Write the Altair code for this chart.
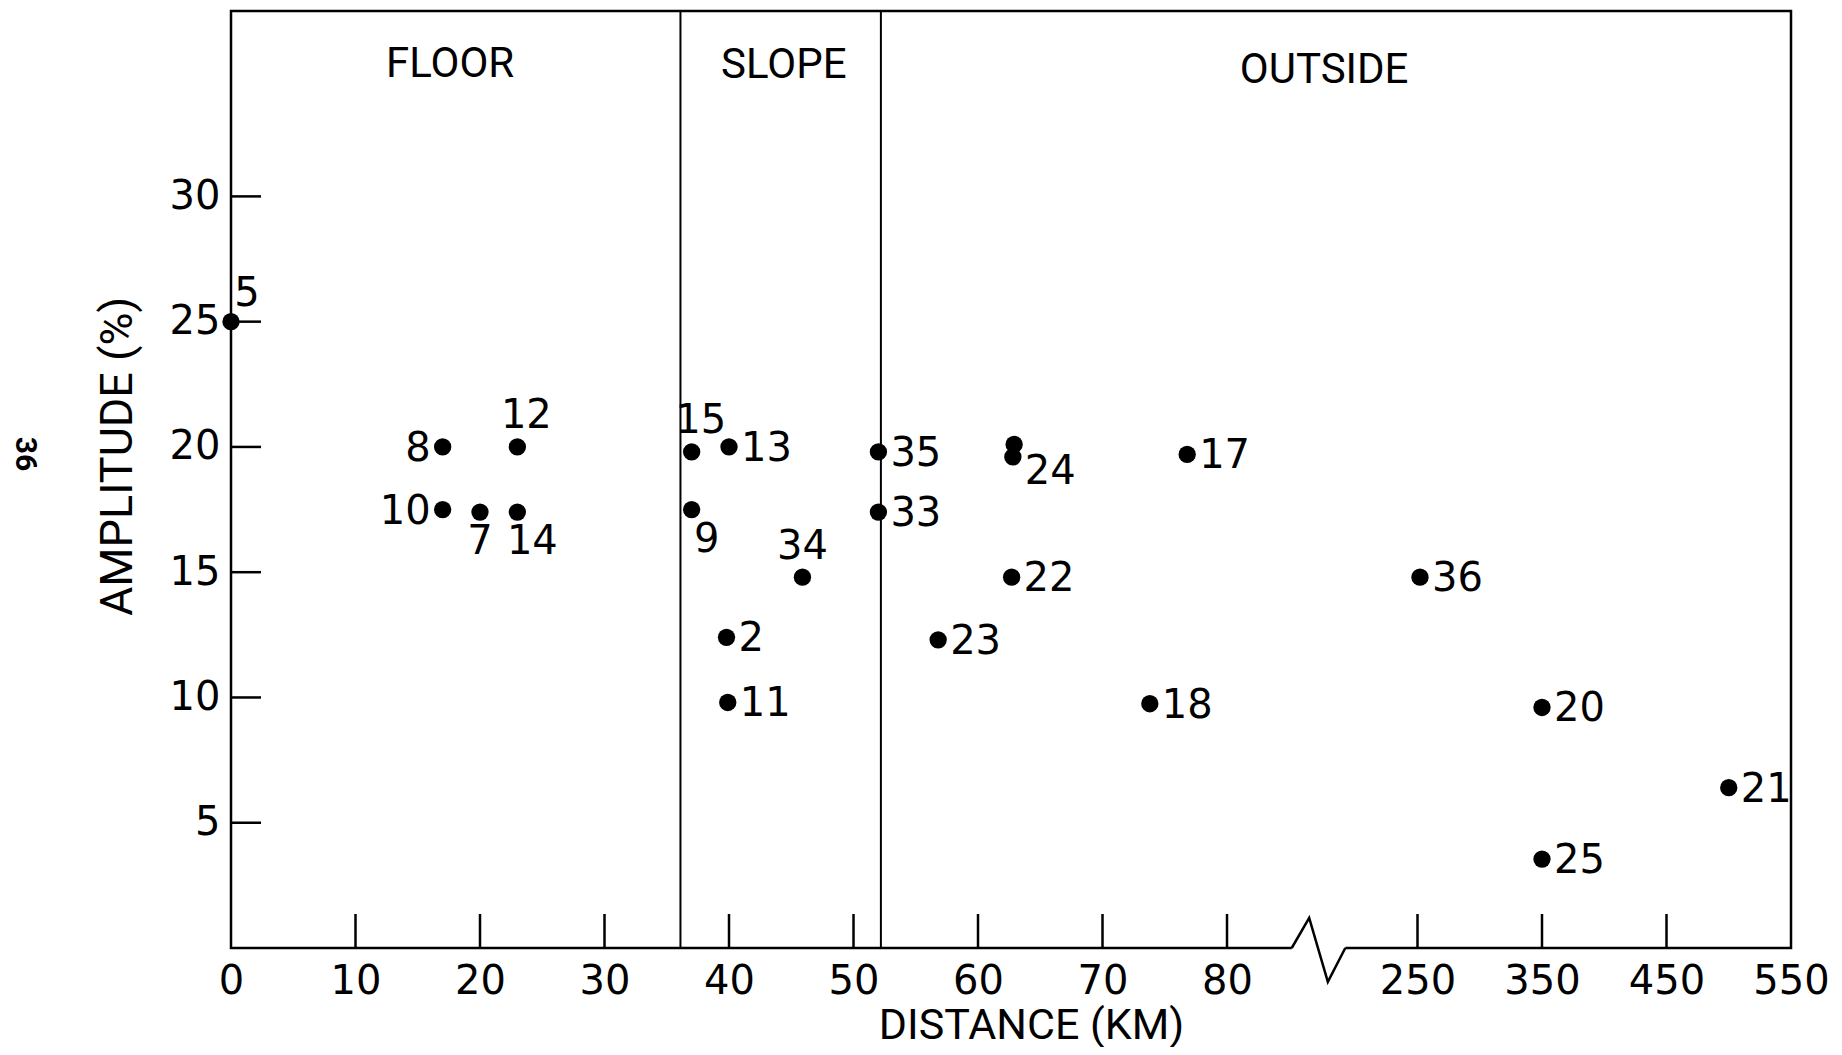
import altair as alt
import pandas as pd

# ---------------- data ----------------
stations = ["5", "8", "12", "10", "7", "14", "15", "13", "9", "34", "2", "11",
            "35", "33", "24", "24", "17", "22", "23", "18", "36", "20", "25", "21"]
distance_km = [0.0, 17.0, 23.0, 17.0, 20.0, 23.0, 37.0, 40.0, 37.0, 45.9, 39.8, 39.9,
               52.0, 52.0, 62.9, 62.8, 76.8, 62.7, 56.8, 73.8, 252.0, 350.0, 350.0, 500.0]
amplitude = [25.0, 20.0, 20.0, 17.5, 17.4, 17.4, 19.8, 20.0, 17.5, 14.8, 12.4, 9.8,
             19.8, 17.4, 20.1, 19.6, 19.7, 14.8, 12.3, 9.75, 14.8, 9.6, 3.55, 6.4]
label_side = ["arr", "l", "ar", "l", "b", "br", "ar", "r", "br", "a", "r", "r",
              "r", "r", "none", "rb", "r", "r", "r", "r", "r", "r", "r", "r"]

boundary_km = [36.1, 52.2]                 # FLOOR | SLOPE | OUTSIDE
region_names = ["FLOOR", "SLOPE", "OUTSIDE"]
region_pos = [17.6, 44.4, 87.8]            # axis position units
region_amp = [35.3, 35.25, 35.05]

x_label_km = [0, 10, 20, 30, 40, 50, 60, 70, 80, 250, 350, 450, 550]
x_tick_km = [10, 20, 30, 40, 50, 60, 70, 80, 250, 350, 450]
y_ticks = [5, 10, 15, 20, 25, 30]

break_pos = [85.2, 86.6, 88.1, 89.5]       # axis-break zigzag
break_amp = [0.0, 1.2, -1.35, 0.0]

# ---------------- broken x axis mapping ----------------
BREAK_POS = 95.3


def to_pos(km):
    return km if km <= 85 else BREAK_POS + (km - 250) / 10


pos_expr = f"datum.km <= 85 ? datum.km : {BREAK_POS} + (datum.km - 250) / 10"

W, H = 1560, 937
FONT = "Roboto"
NUM_FONT = "DejaVu Sans"
X_MAX = 125.3
Y_MAX = 37.4

xscale = alt.Scale(domain=[0, X_MAX], nice=False, zero=False)
yscale = alt.Scale(domain=[0, Y_MAX], nice=False, zero=False)

xaxis = alt.Axis(
    title="DISTANCE (KM)",
    values=[to_pos(v) for v in x_label_km],
    labelExpr=f"datum.value > 90 ? toString(round(250 + (datum.value - {BREAK_POS}) * 10)) : toString(round(datum.value))",
    ticks=False, tickSize=0, domain=False, grid=False,
    labelPadding=33, labelBaseline="middle", labelFontSize=40,
    labelFont=NUM_FONT, labelColor="black", labelFlush=False, labelOverlap=False,
    titleFont=FONT, titleFontSize=43, titleFontWeight="normal", titleColor="black",
    titleX=800, titleY=90, titleAlign="center", titleBaseline="alphabetic")
yaxis = alt.Axis(
    title="AMPLITUDE (%)",
    values=y_ticks,
    ticks=False, tickSize=0, domain=False, grid=False,
    labelPadding=11, labelBaseline="middle", labelFontSize=40,
    labelFont=NUM_FONT, labelColor="black", labelFlush=False,
    titleFont=FONT, titleFontSize=45, titleFontWeight="normal", titleColor="black",
    titleX=-114, titleY=445, titleAlign="center", titleBaseline="middle",
    titleAngle=270)


def X(field="pos:Q"):
    return alt.X(field, scale=xscale, axis=xaxis)


def Y(field="amp:Q"):
    return alt.Y(field, scale=yscale, axis=yaxis)


pts = pd.DataFrame({"station": stations, "km": distance_km,
                    "amp": amplitude, "side": label_side})

base = alt.Chart(pts).transform_calculate(pos=pos_expr)

points = base.mark_circle(size=300, color="black", opacity=1).encode(x=X(), y=Y())

side_style = {
    "r": dict(dx=12, dy=2, align="left"),
    "l": dict(dx=-12, dy=2, align="right"),
    "a": dict(dx=0, dy=-30, align="center"),
    "ar": dict(dx=9, dy=-31, align="center"),
    "arr": dict(dx=16, dy=-28, align="center"),
    "b": dict(dx=0, dy=30, align="center"),
    "br": dict(dx=15, dy=30, align="center"),
    "rb": dict(dx=12, dy=15, align="left"),
}

label_layers = []
for side, st in side_style.items():
    label_layers.append(
        base.transform_filter(alt.datum.side == side).mark_text(
            font=NUM_FONT, fontSize=40, color="black", baseline="middle", **st
        ).encode(x=X(), y=Y(), text="station:N")
    )

bounds = alt.Chart(pd.DataFrame({"km": boundary_km})).transform_calculate(
    pos=pos_expr).mark_rule(color="black", strokeWidth=2).encode(
    x=X(), y=alt.value(0), y2=alt.value(H))

xticks = alt.Chart(pd.DataFrame({"km": x_tick_km})).transform_calculate(
    pos=pos_expr).mark_rule(color="black", strokeWidth=2.5).encode(
    x=X(), y=alt.value(H), y2=alt.value(H - 34))

yticks = alt.Chart(pd.DataFrame({"amp": y_ticks})).mark_rule(
    color="black", strokeWidth=2.5).encode(
    y=Y(), x=alt.value(0), x2=alt.value(30))

brk = pd.DataFrame({"pos": break_pos, "amp": break_amp, "i": list(range(len(break_pos)))})
break_cover = alt.Chart(brk).mark_rule(color="white", strokeWidth=7).encode(
    x=alt.X("min(pos):Q", scale=xscale, axis=xaxis),
    x2="max(pos):Q",
    y=alt.value(H))
break_line = alt.Chart(brk).mark_line(color="black", strokeWidth=2.5).encode(
    x=X(), y=Y(), order="i:O")

regions = alt.Chart(pd.DataFrame({"name": region_names, "pos": region_pos,
                                  "amp": region_amp})).mark_text(
    font=FONT, fontSize=42, color="black", align="center", baseline="middle").encode(
    x=X(), y=Y(), text="name:N")

page_no = alt.Chart(pd.DataFrame({"t": ["36"]})).mark_text(
    font=FONT, fontSize=30, fontWeight="bold", color="black", angle=90,
    align="center", baseline="middle").encode(
    x=alt.value(-206), y=alt.value(443), text="t:N")

chart = alt.layer(
    points, bounds, xticks, yticks, break_cover, break_line, *label_layers,
    regions, page_no
).properties(
    width=W, height=H,
    background="white",
    autosize=alt.AutoSizeParams(type="none"),
    padding={"left": 223, "top": 3, "right": 43, "bottom": 99},
).configure_view(
    stroke="black", strokeWidth=2.5
)

chart.save("out.html", embed_options={"renderer": "svg", "actions": False})
